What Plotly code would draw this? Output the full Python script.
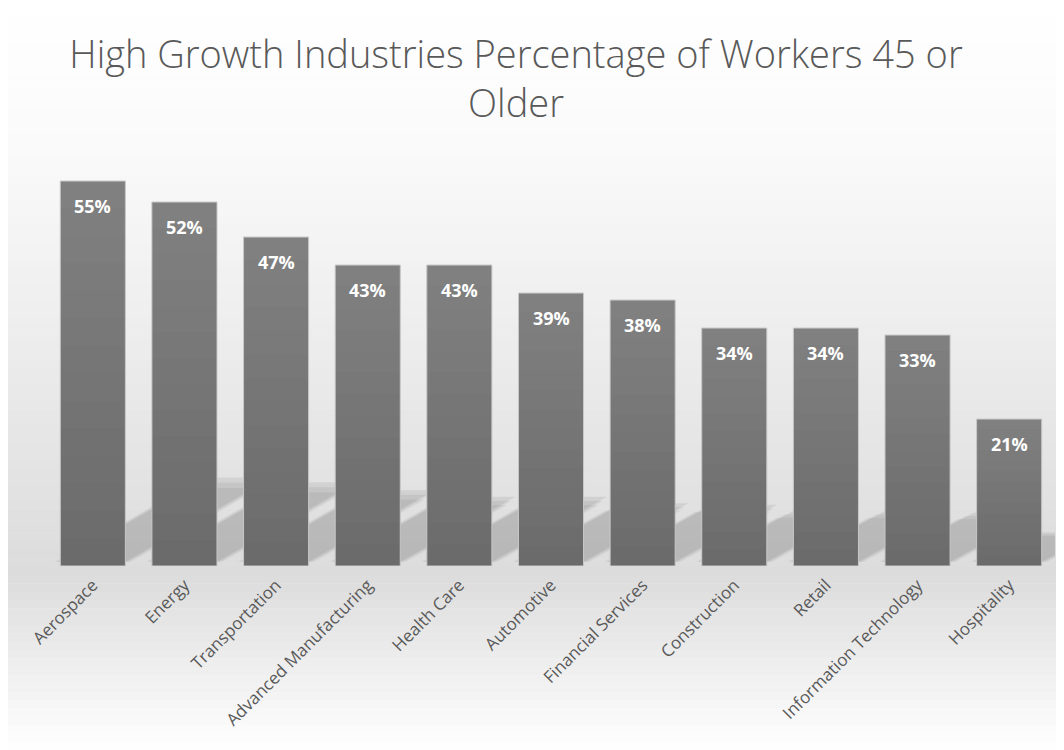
import plotly.graph_objects as go

categories = ["Aerospace", "Energy", "Transportation", "Advanced Manufacturing", "Health Care",
              "Automotive", "Financial Services", "Construction", "Retail",
              "Information Technology", "Hospitality"]
values = [55, 52, 47, 43, 43, 39, 38, 34, 34, 33, 21]
labels = [f"{v}%" for v in values]

OFF = 8  # page body offset
W, H = 1064 - OFF, 750 - OFF
L, R, T, B = 47 - OFF, 1064 - 1055, 146 - OFF, 750 - 566
plot_h = H - T - B
plot_w = W - L - R

def py2paper(py):
    return (566 - py) / plot_h

def px2paper(px):
    return (px - 47) / plot_w

def lerp(c1, c2, t):
    return tuple(int(round(a + (b - a) * t)) for a, b in zip(c1, c2))

shapes = []
stops = [(0, (255, 255, 255)), (150, (250, 250, 250)), (575, (220, 220, 220)), (750, (255, 255, 255))]
n = 90
for i in range(n):
    a = 750 * i / n
    b = 750 * (i + 1) / n
    m = (a + b) / 2
    for j in range(len(stops) - 1):
        if stops[j][0] <= m <= stops[j + 1][0]:
            t = (m - stops[j][0]) / (stops[j + 1][0] - stops[j][0])
            c = lerp(stops[j][1], stops[j + 1][1], t)
            break
    shapes.append(dict(type="rect", xref="paper", yref="paper", layer="below",
                       x0=px2paper(0), x1=px2paper(1070), y0=py2paper(b + 0.5), y1=py2paper(a),
                       fillcolor=f"rgb{c}", line=dict(width=0)))

# soft skewed cast shadows behind bars (decoration)
half = 0.355
for i, v in enumerate(values):
    hd = 0.23 * v
    dx = 0.127 * hd
    for grow, op in [(0.06, 0.06), (0.03, 0.07), (0.0, 0.09)]:
        h = hd * (1 - grow * 2)
        x0 = i - half - grow
        x1 = i + half + grow
        ddx = dx * (1 - grow * 2)
        path = f"M {x0} 0.6 L {x1} 0.6 L {x1 + ddx} {h} L {x0 + ddx} {h} Z"
        shapes.append(dict(type="path", xref="x", yref="y", layer="below", path=path,
                           fillcolor=f"rgba(40,40,40,{op})", line=dict(width=0)))

# subtle vertical sheen on each bar (lighter at top)
k = 14
for i, v in enumerate(values):
    for j in range(k):
        y0 = v * j / k
        y1 = v * (j + 1) / k
        alpha = 0.15 * (j + 0.5) / k
        shapes.append(dict(type="rect", xref="x", yref="y", layer="above",
                           x0=i - half + 0.005, x1=i + half - 0.005, y0=y0, y1=y1,
                           fillcolor=f"rgba(255,255,255,{alpha:.3f})", line=dict(width=0)))

fig = go.Figure(go.Bar(
    x=categories, y=values,
    marker=dict(color="#6b6b6b", line=dict(color="#c8c8c8", width=1)),
    cliponaxis=False,
))

annotations = [dict(x=c, y=v, text=f"<b>{lab}</b>", showarrow=False, yshift=-25,
                    yanchor="middle", xanchor="center",
                    font=dict(family="Open Sans", size=18, color="white"))
               for c, v, lab in zip(categories, values, labels)]

fig.update_layout(
    width=W, height=H,
    margin=dict(l=L, r=R, t=T, b=B, autoexpand=False),
    paper_bgcolor="white", plot_bgcolor="rgba(0,0,0,0)",
    bargap=0.29,
    shapes=shapes,
    annotations=annotations,
    showlegend=False,
    title=dict(text="High Growth Industries Percentage of Workers 45 or<br>Older",
               xref="container", x=(516 - OFF) / W, xanchor="center",
               y=1 - (68 - OFF) / H, yanchor="middle",
               font=dict(family="Open Sans", size=38, color="#595959", weight=300)),
    xaxis=dict(tickangle=-45, tickfont=dict(family="Open Sans", size=17, color="#595959"),
               showline=False, showgrid=False, ticks="", automargin=False,
               ticklabelstandoff=5, range=[-0.5, len(categories) - 0.5]),
    yaxis=dict(range=[0, 60], visible=False, automargin=False),
)

fig.write_html("out.html")
